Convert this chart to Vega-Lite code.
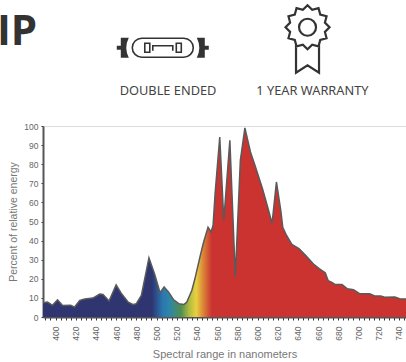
{"$schema":"https://vega.github.io/schema/vega-lite/v6.json","width":363,"height":191,"autosize":"none","padding":{"left":43,"top":126,"right":0,"bottom":45},"background":"white","datasets":{"spectrum":[{"nm":387.6,"pct":7.5},{"nm":392,"pct":7.8},{"nm":397,"pct":6.1},{"nm":402,"pct":9},{"nm":407,"pct":6},{"nm":415,"pct":6.2},{"nm":418.9,"pct":5.2},{"nm":424,"pct":8.7},{"nm":429,"pct":9.4},{"nm":437,"pct":9.9},{"nm":443.8,"pct":12},{"nm":447,"pct":11.8},{"nm":453,"pct":8.4},{"nm":460,"pct":16.8},{"nm":465,"pct":12.5},{"nm":472,"pct":7.8},{"nm":477,"pct":6.5},{"nm":480,"pct":7},{"nm":485,"pct":11.3},{"nm":492.5,"pct":31},{"nm":498,"pct":22.7},{"nm":503.5,"pct":12.7},{"nm":507.5,"pct":15.7},{"nm":512,"pct":13},{"nm":517,"pct":9},{"nm":522,"pct":7},{"nm":527,"pct":6.5},{"nm":530,"pct":7.8},{"nm":535,"pct":14},{"nm":538,"pct":20},{"nm":543,"pct":31.4},{"nm":546.5,"pct":39},{"nm":551,"pct":47},{"nm":554,"pct":44.5},{"nm":556,"pct":48},{"nm":558,"pct":64.6},{"nm":562.6,"pct":94.2},{"nm":566.6,"pct":50.6},{"nm":572.6,"pct":92.5},{"nm":578,"pct":21},{"nm":583,"pct":82},{"nm":587.5,"pct":99},{"nm":593,"pct":86.4},{"nm":598,"pct":78.5},{"nm":605,"pct":67},{"nm":610,"pct":57.6},{"nm":614.4,"pct":49},{"nm":618.7,"pct":70.7},{"nm":623,"pct":55.8},{"nm":625,"pct":47},{"nm":628.6,"pct":42.8},{"nm":634,"pct":38},{"nm":641,"pct":35.8},{"nm":648,"pct":32},{"nm":656,"pct":27.4},{"nm":661,"pct":25.3},{"nm":667,"pct":23.2},{"nm":670,"pct":19},{"nm":674,"pct":18},{"nm":677,"pct":17},{"nm":683.6,"pct":17},{"nm":689,"pct":14.8},{"nm":695,"pct":14.3},{"nm":701,"pct":12.2},{"nm":711,"pct":12.2},{"nm":716,"pct":11},{"nm":722,"pct":11},{"nm":725.7,"pct":10.3},{"nm":736,"pct":10.5},{"nm":740.6,"pct":9.6},{"nm":747,"pct":9.4}]},"encoding":{"x":{"field":"nm","type":"quantitative","scale":{"domain":[387.6,747],"nice":false,"zero":false},"axis":{"title":"Spectral range in nanometers","titleFont":"Liberation Sans","titleFontSize":11,"titleFontWeight":"normal","titleColor":"#777","titlePadding":8,"labelFont":"Liberation Sans","labelFontSize":8.5,"labelColor":"#666","labelAngle":-90,"labelPadding":6,"labelExpr":"datum.value % 20 === 0 ? datum.label : ''","labelOverlap":false,"labelBound":false,"labelFlush":false,"grid":false,"values":[390,395,400,405,410,415,420,425,430,435,440,445,450,455,460,465,470,475,480,485,490,495,500,505,510,515,520,525,530,535,540,545,550,555,560,565,570,575,580,585,590,595,600,605,610,615,620,625,630,635,640,645,650,655,660,665,670,675,680,685,690,695,700,705,710,715,720,725,730,735,740,745],"domainColor":"#555","domainWidth":2,"tickColor":"#333","tickSize":3,"tickWidth":1}},"y":{"field":"pct","type":"quantitative","scale":{"domain":[0,100],"nice":false},"axis":{"title":"Percent of relative energy","titleFont":"Liberation Sans","titleFontSize":10.5,"titleFontWeight":"normal","titleColor":"#777","titlePadding":5,"labelFont":"Liberation Sans","labelFontSize":8.5,"labelColor":"#666","labelPadding":3,"labelOverlap":false,"grid":false,"values":[0,10,20,30,40,50,60,70,80,90,100],"domainColor":"#555","domainWidth":2,"tickColor":"#333","tickSize":2,"tickWidth":1}}},"layer":[{"data":{"name":"spectrum"},"mark":{"type":"area","fill":{"gradient":"linear","x1":0,"x2":1,"y1":0,"y2":0,"stops":[{"offset":0,"color":"#2f3570"},{"offset":0.3,"color":"#2f3570"},{"offset":0.33,"color":"#2a78b0"},{"offset":0.348,"color":"#2f85a8"},{"offset":0.38,"color":"#4f8f50"},{"offset":0.404,"color":"#b4bd40"},{"offset":0.422,"color":"#e8d040"},{"offset":0.44,"color":"#dc8a38"},{"offset":0.465,"color":"#cb3330"},{"offset":1,"color":"#cb3330"}]}}},{"data":{"name":"spectrum"},"mark":{"type":"line","stroke":"#5a5a5a","strokeWidth":1.5}},{"data":{"values":[{"nm":511.4,"pct":116,"label":"DOUBLE ENDED"},{"nm":654.4,"pct":116,"label":"1 YEAR WARRANTY"}]},"mark":{"type":"text","font":"Noto Sans","fontSize":12.8,"color":"#444","align":"center","baseline":"alphabetic"},"encoding":{"text":{"field":"label"}}},{"data":{"values":[{"nm":342,"pct":142.2,"label":"IP"}]},"mark":{"type":"text","font":"Open Sans","fontSize":42,"fontWeight":"bold","color":"#333","align":"left","baseline":"alphabetic"},"encoding":{"text":{"field":"label"}}},{"data":{"values":[{"nm":506.2,"pct":141}]},"mark":{"type":"point","size":4,"filled":false,"opacity":1,"stroke":"#333","strokeWidth":1.6,"shape":"M-21,-9.5H21A9.5,9.5,0,0,1,21,9.5H-21A9.5,9.5,0,0,1,-21,-9.5ZM-18,-4.5h5v9h-5zM13.5,-4.5h5v9h-5zM-10,3V-2H10V3"}},{"data":{"values":[{"nm":506.2,"pct":141}]},"mark":{"type":"point","size":4,"filled":true,"opacity":1,"fill":"#333","shape":"M-46,-2H-42V-10H-34Q-39,0,-34,10H-42V2H-46ZM46,-2H42V-10H34Q39,0,34,10H42V2H46Z"}},{"data":{"values":[{"nm":649.5,"pct":151.7}]},"mark":{"type":"point","size":4,"filled":false,"opacity":1,"stroke":"#333","strokeWidth":2.2,"shape":"M0,-22L4.66,-17.39L11,-19.05L12.73,-12.73L19.05,-11L17.39,-4.66L22,0L17.39,4.66L19.05,11L12.73,12.73L11,19.05L4.66,17.39L0,22L-4.66,17.39L-11,19.05L-12.73,12.73L-19.05,11L-17.39,4.66L-22,0L-17.39,-4.66L-19.05,-11L-12.73,-12.73L-11,-19.05L-4.66,-17.39ZM8.5,0A8.5,8.5,0,1,1,-8.5,0A8.5,8.5,0,1,1,8.5,0ZM-11.5,17V45.5L0,38L11.5,45.5V17"}}]}
